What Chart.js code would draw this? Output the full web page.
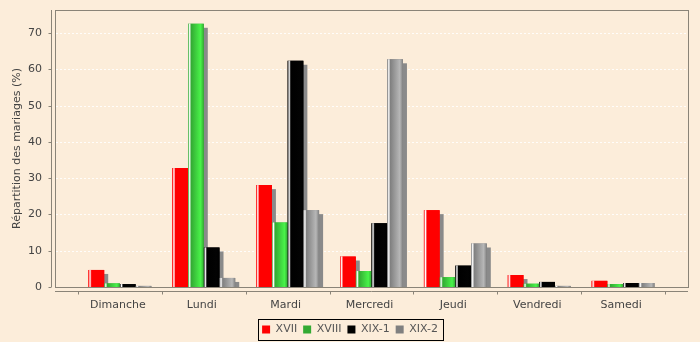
<!DOCTYPE html>
<html>
<head>
<meta charset="utf-8">
<script src="https://cdn.jsdelivr.net/npm/chart.js"></script>
<style>
  html, body { margin: 0; padding: 0; background: #fcedda; }
</style>
</head>
<body>
<canvas id="bar-chart" width="700" height="342"></canvas>
<script>
// data
const days = ['Dimanche', 'Lundi', 'Mardi', 'Mercredi', 'Jeudi', 'Vendredi', 'Samedi'];
const seriesNames = ['XVII', 'XVIII', 'XIX-1', 'XIX-2'];
const xvii = [4.7, 32.8, 28.1, 8.4, 21.2, 3.3, 1.7];
const xviii = [1.0, 72.6, 17.8, 4.4, 2.7, 0.9, 0.8];
const xix1 = [0.8, 10.9, 62.4, 17.6, 5.9, 1.4, 1.1];
const xix2 = [0.3, 2.5, 21.2, 62.8, 12.0, 0.3, 1.1];
const yTicks = [0, 10, 20, 30, 40, 50, 60, 70];
const yMax = 76.4;

const baseColors = [[255, 0, 0], [51, 170, 51], [0, 0, 0], [128, 128, 128]];
const bg = '#fcedda';
const font = 'DejaVu Sans';

// java.awt.Color.brighter()
function brighter(c) {
    if (c[0] === 0 && c[1] === 0 && c[2] === 0) return [3, 3, 3];
    return c.map(v => (v > 0 && v < 3 ? 3 : v)).map(v => Math.min(255, Math.round(v / 0.7)));
}
const rgb = c => 'rgb(' + c.join(',') + ')';

const frame = {
    id: 'frame',
    beforeDraw(chart) {
        const { ctx, chartArea: a } = chart;
        const y = chart.scales.y;
        const L = a.left - 23, R = a.right + 23;
        ctx.save();
        ctx.fillStyle = bg;
        ctx.fillRect(0, 0, chart.width, chart.height);
        // grid
        ctx.strokeStyle = 'rgba(255,255,255,0.85)';
        ctx.lineWidth = 1;
        ctx.setLineDash([2, 2]);
        yTicks.slice(1).forEach(v => {
            const py = Math.round(y.getPixelForValue(v)) + 0.5;
            ctx.beginPath();
            ctx.moveTo(L + 1, py);
            ctx.lineTo(R - 1, py);
            ctx.stroke();
        });
        ctx.setLineDash([]);
        // plot border
        ctx.strokeStyle = '#8a8478';
        ctx.strokeRect(L + 0.5, a.top + 0.5, R - L, a.bottom - a.top);
        ctx.restore();
    },
    beforeDatasetsDraw(chart) {
        // shadows
        const ctx = chart.ctx;
        ctx.save();
        ctx.fillStyle = 'rgb(138,138,138)';
        chart.data.datasets.forEach((ds, i) => {
            chart.getDatasetMeta(i).data.forEach(bar => {
                const h = bar.base - bar.y;
                if (h > 4) ctx.fillRect(bar.x - bar.width / 2 + 4, bar.y + 4, bar.width, h - 4);
            });
        });
        ctx.restore();
    },
    afterDatasetsDraw(chart) {
        // gradient bar painter
        const ctx = chart.ctx;
        ctx.save();
        chart.data.datasets.forEach((ds, i) => {
            const c0 = rgb(baseColors[i]), c1 = rgb(brighter(baseColors[i]));
            chart.getDatasetMeta(i).data.forEach(bar => {
                const l = bar.x - bar.width / 2, w = bar.width;
                const g = ctx.createLinearGradient(l, 0, l + w, 0);
                g.addColorStop(0, c0);
                g.addColorStop(0.1, '#ffffff');
                g.addColorStop(0.2, c0);
                g.addColorStop(0.8, c1);
                g.addColorStop(1, c0);
                ctx.fillStyle = g;
                ctx.fillRect(l, bar.y, w, bar.base - bar.y);
            });
        });
        ctx.restore();
    },
    afterDraw(chart) {
        const { ctx, chartArea: a } = chart;
        const y = chart.scales.y;
        const L = a.left - 23, R = a.right + 23;
        ctx.save();
        ctx.strokeStyle = '#8a8478';
        ctx.lineWidth = 1;
        // y axis
        const ax = L - 3.5;
        ctx.beginPath();
        ctx.moveTo(ax, a.top);
        ctx.lineTo(ax, a.bottom);
        yTicks.forEach(v => {
            const py = Math.round(y.getPixelForValue(v)) + 0.5;
            ctx.moveTo(ax - 3, py);
            ctx.lineTo(ax, py);
        });
        // x axis
        const ay = a.bottom + 4.5;
        ctx.moveTo(L, ay);
        ctx.lineTo(R, ay);
        const cw = (a.right - a.left) / days.length;
        for (let i = 0; i <= days.length; i++) {
            const px = Math.round(a.left + i * cw) + 0.5;
            ctx.moveTo(px, ay);
            ctx.lineTo(px, ay + 3);
        }
        ctx.stroke();
        // legend frame
        const hb = chart.legend.legendHitBoxes;
        if (hb && hb.length) {
            const first = hb[0], last = hb[hb.length - 1];
            const cy = first.top + first.height / 2;
            ctx.strokeStyle = '#000';
            ctx.strokeRect(Math.round(first.left - 4) + 0.5, Math.round(cy - 10.5) + 0.5,
                Math.round(last.left + last.width - first.left + 9), 21);
        }
        ctx.restore();
    }
};

const data = {
    labels: days,
    datasets: [xvii, xviii, xix1, xix2].map((vals, i) => ({
        label: seriesNames[i],
        data: vals,
        backgroundColor: rgb(baseColors[i]),
        borderWidth: 0,
        categoryPercentage: 0.75,
        barPercentage: 1.0
    }))
};

new Chart(document.getElementById('bar-chart'), {
    type: 'bar',
    data: data,
    plugins: [frame],
    options: {
        responsive: false,
        animation: false,
        devicePixelRatio: 1,
        layout: { padding: { left: 0, right: 0, top: 10, bottom: 0 } },
        plugins: {
            tooltip: { enabled: false },
            legend: {
                position: 'bottom',
                maxHeight: 24,
                labels: {
                    boxWidth: 8,
                    boxHeight: 8,
                    padding: 6,
                    color: '#555',
                    font: { family: font, size: 11 }
                }
            }
        },
        scales: {
            x: {
                grid: { display: false, tickLength: 8 },
                border: { display: false },
                ticks: { color: '#444', padding: 4, labelOffset: -2, font: { family: font, size: 11 } },
                afterFit: s => { s.height = 31; }
            },
            y: {
                min: 0,
                max: yMax,
                grid: { display: false, drawTicks: true, tickLength: 33 },
                border: { display: false },
                afterBuildTicks: s => { s.ticks = yTicks.map(v => ({ value: v })); },
                ticks: { color: '#444', padding: 3, font: { family: font, size: 11 } },
                title: {
                    display: true,
                    text: 'Répartition des mariages (%)',
                    color: '#444',
                    padding: { top: 11, bottom: 0 },
                    font: { family: font, size: 11 }
                },
                afterFit: s => { s.width = 78; }
            },
            // empty right-hand spacer so the legend stays centred on the page
            spacer: {
                type: 'linear',
                position: 'right',
                display: true,
                grid: { display: false, drawTicks: false },
                border: { display: false },
                ticks: { display: false },
                afterFit: s => { s.width = 35; }
            }
        }
    }
});
</script>
</body>
</html>
